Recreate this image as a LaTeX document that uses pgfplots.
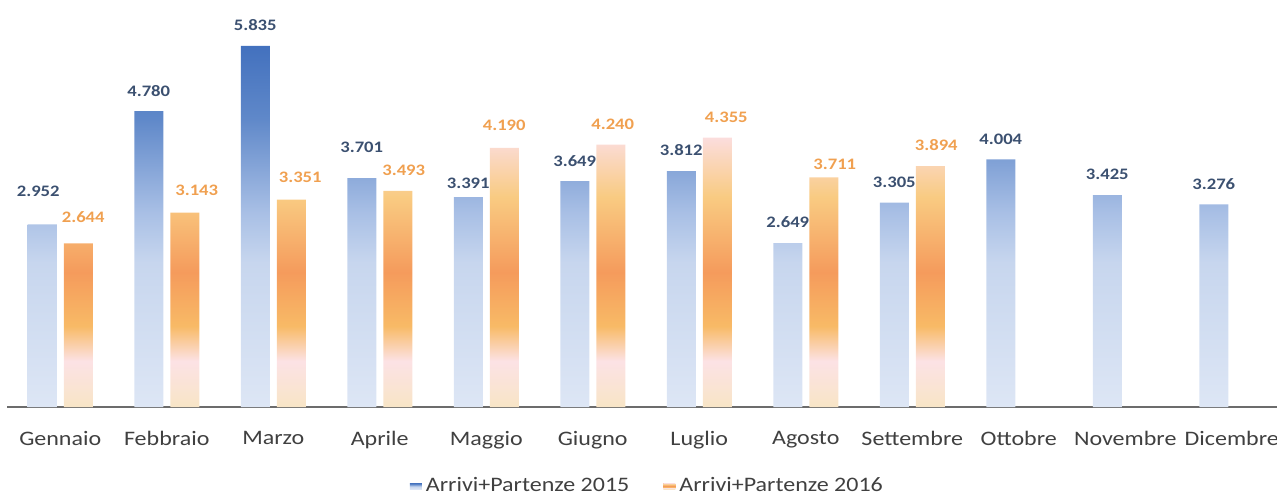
\documentclass[border=0pt]{standalone}
\usepackage{fontspec}
\setmainfont{Carlito}[FakeStretch=1.165]
\usepackage{pgfplots}
\usepackage{pgfplotstable}
\pgfplotsset{compat=1.18}
\definecolor{bl1}{HTML}{4371BE}
\definecolor{bl2}{HTML}{5F88C9}
\definecolor{bl3}{HTML}{A8BFE5}
\definecolor{bl4}{HTML}{C7D6EE}
\definecolor{bl5}{HTML}{DDE6F5}
\definecolor{or1}{HTML}{FBDDDD}
\definecolor{or2}{HTML}{F9CB82}
\definecolor{or3}{HTML}{F59B5C}
\definecolor{or4}{HTML}{F8BA66}
\definecolor{or5}{HTML}{FCE2E5}
\definecolor{or6}{HTML}{F8E5C6}
\definecolor{lblblue}{HTML}{3B5070}
\definecolor{lblorange}{HTML}{F0A050}
\definecolor{txtgray}{HTML}{404040}
\definecolor{leg1}{HTML}{7FA0D6}
\definecolor{leg2}{HTML}{F6B27A}
\pgfdeclareverticalshading{bluebar}{100bp}{color(0bp)=(bl5); color(25bp)=(bl5); color(45bp)=(bl4); color(52bp)=(bl3); color(65bp)=(bl2); color(75bp)=(bl1); color(100bp)=(bl1)}
\pgfdeclareverticalshading{orangebar}{100bp}{color(0bp)=(or6); color(25bp)=(or6); color(33.5bp)=(or5); color(40bp)=(or4); color(50bp)=(or3); color(64bp)=(or2); color(75bp)=(or1); color(100bp)=(or1)}
% x value dx(pt) dy(pt): label offsets
\pgfplotstableread{
x  y     dx   dy
0  2952  -2   6.5
1  4780  0    0
2  5835  0    0
3  3701  0    5
4  3391  0    -3
5  3649  0    0
6  3812  0    0
7  2649  0    0
8  3305  0    0
9  4004  0    0
10 3425  0    0
11 3276  0    0
}\tabA
\pgfplotstableread{
x  y     dx   dy
0  2644  2.5  3
1  3143  6    0.75
2  3351  4.5  1
3  3493  3    0
4  4190  0    1
5  4240  1    0
6  4355  4.5  0
7  3711  5.5  -3.5
8  3894  3    0
}\tabB
\begin{document}
\begin{tikzpicture}
\begin{axis}[
  scale only axis,
  width=635pt, height=203.5pt,
  xmin=-0.5, xmax=11.425,
  ymin=0, ymax=6578,
  axis x line*=bottom,
  axis y line=none,
  axis line style={draw=gray!85!black, line width=0.75pt},
  xtick={0,...,11},
  xticklabels={Gennaio,Febbraio,Marzo,Aprile,Maggio,Giugno,Luglio,Agosto,Settembre,Ottobre,Novembre,Dicembre},
  xtick style={draw=none},
  xticklabel style={font=\fontsize{10.3}{12}\selectfont, text=txtgray, yshift=-8.5pt},
  /pgf/number format/.cd, 1000 sep={.}, fixed, assume math mode=true,
  /pgfplots/.cd,
  legend columns=2,
  legend style={draw=none, fill=none, at={(0.505,0)}, anchor=center, yshift=-39.5pt,
    font=\fontsize{10.3}{12}\selectfont, text=txtgray, inner sep=1pt,
    /tikz/every even column/.append style={column sep=15pt}},
  legend cell align=left,
]
\addplot[ybar, bar width=14.5pt, bar shift=-9pt, draw=none, shading=bluebar,
  visualization depends on={\thisrow{dx}\as\dx},
  visualization depends on={\thisrow{dy}\as\dy},
  nodes near coords,
  every node near coord/.append style={font=\bfseries\fontsize{8}{9}\selectfont, text=lblblue, xshift=\dx pt-9pt, yshift=4pt+\dy pt},
  legend image code/.code={\fill[leg1] (0pt,-1.5pt) rectangle (6pt,1.5pt);}]
table[x=x,y=y] {\tabA};
\addlegendentry{Arrivi+Partenze 2015}
\addplot[ybar, bar width=14.5pt, bar shift=9pt, draw=none, shading=orangebar,
  visualization depends on={\thisrow{dx}\as\dx},
  visualization depends on={\thisrow{dy}\as\dy},
  nodes near coords,
  every node near coord/.append style={font=\bfseries\fontsize{8}{9}\selectfont, text=lblorange, xshift=\dx pt+9pt, yshift=4pt+\dy pt},
  legend image code/.code={\fill[leg2] (0pt,-1.5pt) rectangle (6pt,1.5pt);}]
table[x=x,y=y] {\tabB};
\addlegendentry{Arrivi+Partenze 2016}
\coordinate (bl) at (rel axis cs:0,0);
\coordinate (tr) at (rel axis cs:1,1);
\end{axis}
\pgfresetboundingbox
\path[use as bounding box] ([xshift=-3.5pt,yshift=-43.5pt]bl) rectangle (tr);
\end{tikzpicture}
\end{document}
